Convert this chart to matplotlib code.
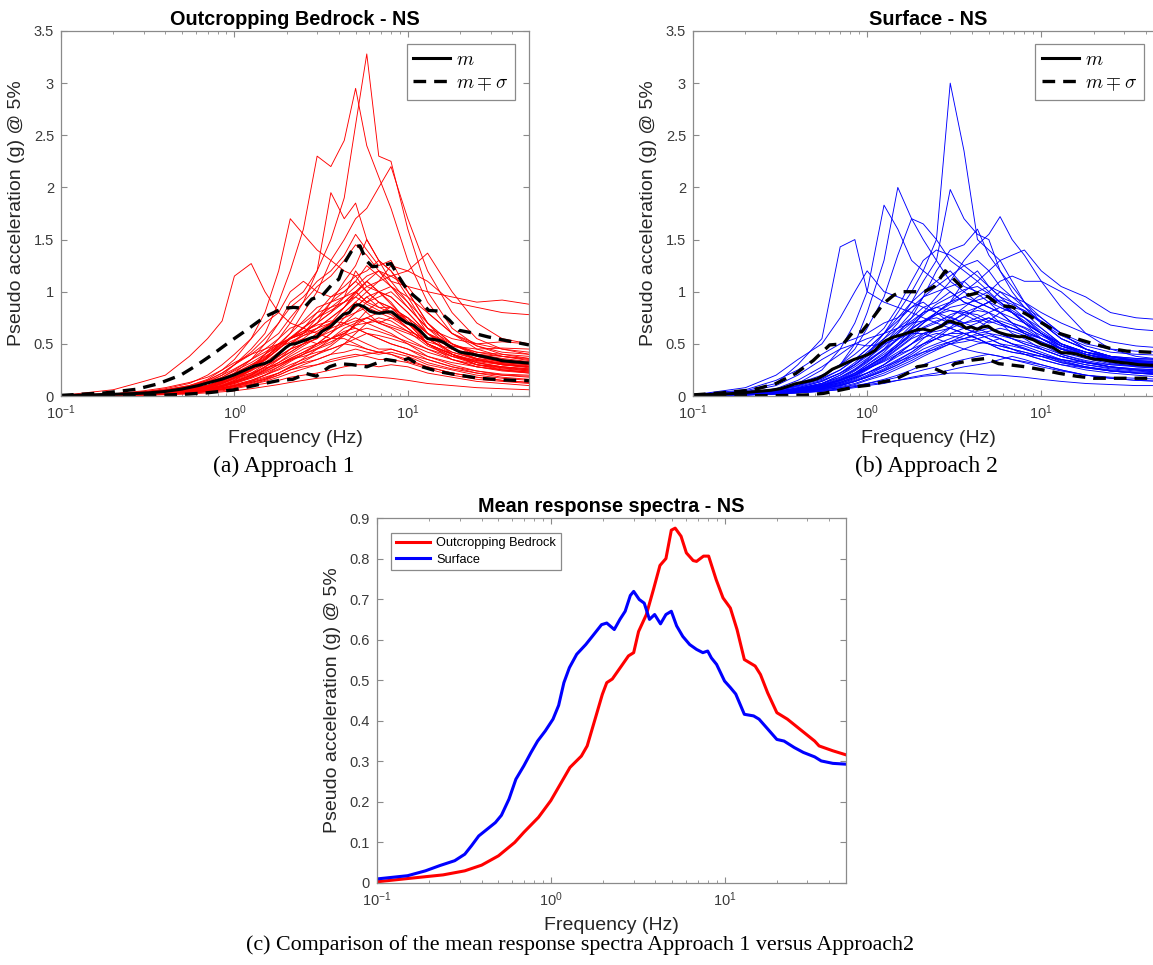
import matplotlib
matplotlib.use("Agg")
import matplotlib.pyplot as plt
from matplotlib.ticker import FuncFormatter, LogLocator, MultipleLocator

# ---------------- data ----------------
# common frequency grid of the individual record spectra (Hz)
record_freq = [0.1, 0.2, 0.3, 0.4, 0.55, 0.7, 0.85, 1.0, 1.25, 1.5, 1.8, 2.1, 2.5,
               3.0, 3.6, 4.3, 5.0, 5.8, 6.8, 8.0, 10, 13, 18, 25, 35, 50]

# (a) Outcropping bedrock individual spectra (g)
bedrock_spectra = [
    [0.005,0.06,0.14,0.2,0.38,0.55,0.72,1.15,1.27,1.0,0.8,0.7,0.65,0.6,0.55,0.55,0.5,0.45,0.42,0.4,0.33,0.28,0.22,0.18,0.15,0.13],
    [0.003,0.02,0.04,0.06,0.1,0.16,0.25,0.35,0.55,0.8,1.2,1.7,1.55,1.4,1.3,1.2,1.15,1.0,0.9,0.8,0.65,0.5,0.4,0.32,0.27,0.24],
    [0.003,0.02,0.03,0.05,0.08,0.13,0.2,0.3,0.45,0.6,0.9,1.2,1.6,2.3,2.2,2.45,2.95,2.4,2.1,1.8,1.3,0.9,0.6,0.45,0.38,0.34],
    [0.002,0.01,0.02,0.04,0.06,0.1,0.15,0.22,0.35,0.5,0.7,0.9,1.0,1.2,1.5,1.9,2.6,3.28,2.3,2.25,1.6,1.0,0.65,0.48,0.4,0.36],
    [0.002,0.01,0.02,0.03,0.05,0.08,0.12,0.17,0.25,0.35,0.5,0.6,0.8,1.0,1.3,1.5,1.7,1.8,2.0,2.2,1.7,1.2,0.8,0.55,0.45,0.4],
    [0.002,0.01,0.02,0.03,0.05,0.07,0.1,0.15,0.25,0.4,0.55,0.7,0.9,1.2,1.95,1.7,1.85,1.5,1.3,1.2,1.0,0.7,0.45,0.35,0.3,0.27],
    [0.002,0.01,0.02,0.03,0.05,0.08,0.12,0.18,0.25,0.35,0.45,0.55,0.6,0.7,0.8,0.9,1.0,1.1,1.2,1.1,1.05,1.0,0.95,0.9,0.92,0.88],
    [0.002,0.01,0.02,0.03,0.04,0.06,0.09,0.13,0.2,0.28,0.38,0.45,0.55,0.65,0.75,0.85,0.95,1.05,1.1,1.15,1.2,1.1,0.9,0.85,0.8,0.78],
    [0.002,0.01,0.02,0.03,0.05,0.07,0.1,0.14,0.2,0.28,0.35,0.42,0.5,0.6,0.7,0.8,0.9,1.0,1.1,1.25,1.2,1.37,1.0,0.7,0.55,0.5],
    [0.002,0.015,0.03,0.05,0.09,0.15,0.22,0.3,0.42,0.55,0.7,0.85,0.95,1.1,1.2,1.35,1.55,1.4,1.25,1.3,1.0,0.7,0.5,0.4,0.35,0.32],
    [0.001,0.01,0.02,0.03,0.05,0.08,0.12,0.16,0.22,0.3,0.4,0.5,0.6,0.75,0.9,1.1,1.25,1.5,1.3,1.2,0.95,0.65,0.45,0.35,0.3,0.28],
    [0.003,0.02,0.04,0.07,0.12,0.2,0.3,0.4,0.55,0.7,0.8,1.0,1.1,1.0,0.95,1.0,1.1,1.0,0.9,0.85,0.7,0.5,0.4,0.32,0.28,0.25],
    [0.002,0.012,0.025,0.04,0.07,0.1,0.14,0.2,0.28,0.4,0.5,0.55,0.6,0.7,0.8,0.95,1.2,1.05,1.0,0.95,0.8,0.6,0.45,0.38,0.33,0.3],
    [0.001,0.008,0.015,0.025,0.04,0.06,0.09,0.12,0.18,0.25,0.35,0.45,0.5,0.55,0.7,0.85,1.0,0.9,0.95,1.0,0.85,0.65,0.5,0.4,0.36,0.33],
    [0.002,0.015,0.03,0.05,0.08,0.12,0.17,0.22,0.3,0.35,0.45,0.55,0.6,0.65,0.7,0.75,0.8,0.85,0.8,0.75,0.65,0.5,0.4,0.33,0.3,0.28],
    [0.001,0.005,0.01,0.02,0.03,0.05,0.08,0.1,0.15,0.2,0.28,0.35,0.4,0.45,0.55,0.65,0.7,0.75,0.7,0.65,0.55,0.45,0.35,0.28,0.24,0.22],
    [0.003,0.02,0.05,0.08,0.13,0.18,0.25,0.32,0.4,0.45,0.5,0.5,0.55,0.5,0.55,0.6,0.55,0.5,0.45,0.45,0.4,0.35,0.28,0.24,0.21,0.2],
    [0.001,0.006,0.012,0.02,0.03,0.045,0.06,0.08,0.11,0.15,0.2,0.25,0.3,0.35,0.4,0.5,0.6,0.7,0.65,0.6,0.5,0.38,0.3,0.24,0.2,0.18],
    [0.002,0.01,0.02,0.035,0.06,0.09,0.13,0.18,0.25,0.3,0.38,0.45,0.5,0.6,0.65,0.8,0.9,0.8,0.7,0.75,0.7,0.55,0.4,0.3,0.26,0.24],
    [0.001,0.005,0.01,0.015,0.025,0.04,0.05,0.07,0.1,0.12,0.15,0.18,0.2,0.22,0.25,0.28,0.3,0.3,0.28,0.3,0.28,0.22,0.18,0.14,0.12,0.1],
    [0.001,0.004,0.008,0.012,0.02,0.03,0.04,0.05,0.07,0.09,0.11,0.13,0.15,0.17,0.18,0.2,0.2,0.19,0.18,0.17,0.15,0.12,0.1,0.08,0.07,0.06],
    [0.002,0.01,0.02,0.03,0.05,0.07,0.1,0.14,0.2,0.26,0.32,0.38,0.45,0.5,0.6,0.7,0.8,0.9,1.0,0.95,0.8,0.6,0.4,0.3,0.25,0.22],
    [0.002,0.015,0.03,0.05,0.08,0.12,0.18,0.25,0.35,0.45,0.55,0.65,0.7,0.8,0.95,1.05,1.15,1.2,1.3,1.1,0.9,0.7,0.5,0.38,0.32,0.3],
    [0.001,0.008,0.015,0.025,0.04,0.06,0.08,0.11,0.15,0.2,0.25,0.3,0.35,0.4,0.45,0.5,0.55,0.6,0.55,0.5,0.45,0.35,0.28,0.22,0.18,0.16],
    [0.003,0.02,0.04,0.06,0.1,0.15,0.22,0.3,0.4,0.5,0.6,0.75,0.9,1.05,1.15,1.3,1.45,1.35,1.2,1.05,0.9,0.6,0.45,0.36,0.31,0.28],
    [0.002,0.012,0.02,0.035,0.06,0.09,0.13,0.17,0.22,0.27,0.3,0.35,0.38,0.42,0.45,0.5,0.48,0.45,0.42,0.4,0.35,0.28,0.22,0.18,0.15,0.13],
    [0.001,0.006,0.012,0.02,0.035,0.05,0.07,0.1,0.14,0.18,0.22,0.28,0.32,0.35,0.4,0.42,0.45,0.42,0.4,0.42,0.38,0.3,0.25,0.2,0.17,0.15],
    [0.002,0.012,0.025,0.04,0.07,0.1,0.15,0.2,0.28,0.35,0.45,0.55,0.65,0.75,0.85,0.9,1.0,1.1,1.0,0.9,0.7,0.5,0.38,0.3,0.27,0.25],
    [0.001,0.008,0.015,0.025,0.04,0.06,0.08,0.1,0.13,0.16,0.2,0.25,0.28,0.3,0.35,0.38,0.4,0.38,0.35,0.35,0.32,0.26,0.2,0.16,0.14,0.12],
    [0.003,0.02,0.035,0.055,0.09,0.14,0.2,0.26,0.35,0.42,0.5,0.55,0.65,0.8,0.85,0.95,1.0,0.9,0.85,0.85,0.75,0.6,0.5,0.42,0.38,0.35],
    [0.002,0.012,0.022,0.035,0.06,0.09,0.13,0.18,0.26,0.34,0.45,0.55,0.62,0.7,0.9,1.0,1.1,1.25,1.15,1.05,0.85,0.65,0.55,0.5,0.52,0.5],
    [0.001,0.007,0.014,0.022,0.035,0.05,0.07,0.1,0.14,0.2,0.26,0.33,0.4,0.5,0.6,0.75,0.85,0.95,0.85,0.8,0.75,0.6,0.48,0.42,0.4,0.38],
    [0.002,0.01,0.02,0.03,0.05,0.08,0.11,0.15,0.21,0.28,0.36,0.42,0.5,0.55,0.65,0.7,0.75,0.7,0.72,0.68,0.62,0.55,0.48,0.45,0.46,0.45],
    [0.001,0.006,0.012,0.02,0.03,0.045,0.065,0.09,0.12,0.16,0.22,0.28,0.36,0.45,0.5,0.6,0.68,0.75,0.8,0.85,0.75,0.5,0.35,0.28,0.25,0.23],
    [0.002,0.015,0.03,0.045,0.07,0.1,0.15,0.21,0.3,0.38,0.46,0.52,0.58,0.62,0.7,0.78,0.85,0.95,1.0,1.05,0.95,0.8,0.6,0.48,0.42,0.4],
    [0.001,0.009,0.018,0.03,0.05,0.07,0.1,0.13,0.18,0.24,0.3,0.36,0.42,0.5,0.55,0.62,0.65,0.6,0.58,0.55,0.5,0.42,0.35,0.3,0.28,0.26],
    [0.002,0.01,0.02,0.035,0.055,0.08,0.12,0.17,0.24,0.32,0.42,0.5,0.58,0.65,0.75,0.85,0.98,1.1,1.0,0.88,0.72,0.55,0.42,0.35,0.3,0.28],
    [0.001,0.008,0.016,0.026,0.045,0.065,0.09,0.12,0.17,0.22,0.28,0.34,0.4,0.46,0.52,0.58,0.62,0.65,0.62,0.58,0.52,0.45,0.38,0.34,0.32,0.3],
    [0.002,0.012,0.024,0.04,0.065,0.1,0.14,0.19,0.27,0.36,0.48,0.6,0.72,0.85,0.9,0.95,1.05,1.15,1.2,1.15,1.05,0.8,0.6,0.5,0.45,0.42],
    [0.001,0.005,0.01,0.018,0.03,0.045,0.06,0.08,0.11,0.14,0.18,0.22,0.26,0.3,0.33,0.36,0.38,0.4,0.42,0.45,0.4,0.32,0.26,0.22,0.2,0.19],
    [0.002,0.012,0.025,0.04,0.065,0.1,0.14,0.2,0.28,0.37,0.47,0.56,0.66,0.75,0.82,0.9,0.95,0.88,0.82,0.78,0.65,0.5,0.4,0.34,0.31,0.29],
    [0.001,0.008,0.016,0.028,0.045,0.065,0.09,0.13,0.18,0.23,0.3,0.36,0.42,0.48,0.55,0.6,0.68,0.7,0.75,0.72,0.62,0.48,0.38,0.32,0.28,0.26],
    [0.003,0.018,0.035,0.055,0.09,0.13,0.18,0.24,0.32,0.4,0.48,0.56,0.62,0.68,0.72,0.7,0.65,0.6,0.55,0.5,0.45,0.38,0.32,0.28,0.25,0.23],
    [0.001,0.006,0.012,0.02,0.032,0.048,0.068,0.09,0.13,0.17,0.22,0.27,0.33,0.4,0.48,0.58,0.7,0.82,0.9,0.85,0.7,0.55,0.42,0.36,0.33,0.31],
    [0.002,0.01,0.02,0.032,0.052,0.075,0.1,0.14,0.19,0.25,0.32,0.4,0.48,0.56,0.62,0.68,0.72,0.75,0.7,0.66,0.6,0.52,0.45,0.4,0.38,0.36],
]

# (b) Surface individual spectra (g)
surface_spectra = [
    [0.01,0.05,0.12,0.3,0.55,1.43,1.5,1.0,0.9,0.85,0.8,0.75,0.7,0.65,0.6,0.55,0.5,0.45,0.42,0.4,0.35,0.3,0.27,0.24,0.22,0.2],
    [0.005,0.03,0.06,0.12,0.25,0.45,0.7,1.0,1.83,1.6,1.3,1.2,1.1,1.0,0.9,0.85,0.8,0.7,0.6,0.55,0.45,0.38,0.32,0.28,0.25,0.23],
    [0.004,0.02,0.05,0.1,0.18,0.3,0.5,0.8,1.3,2.0,1.7,1.5,1.3,1.1,1.0,0.9,0.85,0.8,0.7,0.6,0.5,0.4,0.33,0.28,0.25,0.22],
    [0.003,0.02,0.04,0.08,0.14,0.22,0.3,0.4,0.6,0.8,1.0,1.2,1.5,3.0,2.35,1.5,1.4,1.3,1.1,0.9,0.7,0.55,0.45,0.38,0.33,0.3],
    [0.003,0.02,0.04,0.07,0.12,0.2,0.3,0.4,0.55,0.7,0.9,1.1,1.3,1.98,1.7,1.55,1.5,1.2,1.0,0.85,0.7,0.55,0.45,0.38,0.33,0.3],
    [0.002,0.015,0.03,0.05,0.09,0.15,0.22,0.3,0.4,0.5,0.65,0.8,0.95,1.1,1.3,1.45,1.55,1.72,1.5,1.35,1.1,0.85,0.6,0.45,0.38,0.35],
    [0.003,0.02,0.04,0.06,0.1,0.15,0.2,0.28,0.38,0.48,0.6,0.7,0.8,0.9,1.0,1.1,1.2,1.3,1.35,1.4,1.2,1.05,0.95,0.8,0.75,0.73],
    [0.002,0.015,0.03,0.05,0.08,0.12,0.17,0.22,0.3,0.38,0.45,0.55,0.65,0.75,0.85,0.95,1.0,1.1,1.15,1.1,1.1,1.0,0.8,0.68,0.64,0.62],
    [0.004,0.025,0.05,0.1,0.18,0.3,0.45,0.65,0.95,1.35,1.7,1.65,1.5,1.3,1.2,1.1,1.0,0.9,0.8,0.7,0.55,0.45,0.38,0.32,0.28,0.26],
    [0.002,0.015,0.03,0.06,0.1,0.16,0.24,0.32,0.45,0.6,0.75,0.95,1.2,1.4,1.45,1.6,1.35,1.2,1.05,0.9,0.75,0.6,0.45,0.36,0.31,0.28],
    [0.01,0.08,0.2,0.35,0.5,0.75,1.0,1.2,1.0,0.95,0.9,0.85,0.8,0.7,0.65,0.6,0.55,0.5,0.45,0.4,0.35,0.3,0.25,0.22,0.2,0.18],
    [0.01,0.06,0.15,0.25,0.4,0.5,0.55,0.6,0.7,0.75,0.85,0.9,0.8,0.75,0.7,0.65,0.6,0.55,0.5,0.45,0.4,0.33,0.28,0.24,0.22,0.2],
    [0.005,0.03,0.06,0.1,0.16,0.25,0.35,0.45,0.6,0.75,0.9,1.0,1.1,1.2,1.05,1.0,0.95,0.9,0.8,0.7,0.6,0.45,0.38,0.33,0.3,0.28],
    [0.003,0.02,0.04,0.07,0.11,0.16,0.22,0.28,0.38,0.5,0.6,0.7,0.8,0.9,0.95,1.0,1.05,0.95,0.9,0.85,0.75,0.6,0.45,0.38,0.34,0.32],
    [0.002,0.01,0.02,0.04,0.07,0.1,0.14,0.18,0.25,0.32,0.4,0.48,0.55,0.65,0.7,0.75,0.8,0.85,0.8,0.75,0.65,0.5,0.4,0.34,0.3,0.28],
    [0.003,0.02,0.035,0.06,0.09,0.13,0.18,0.22,0.28,0.33,0.38,0.42,0.45,0.5,0.52,0.55,0.58,0.55,0.5,0.48,0.42,0.35,0.3,0.26,0.24,0.22],
    [0.002,0.012,0.025,0.04,0.06,0.08,0.1,0.12,0.15,0.18,0.22,0.25,0.28,0.32,0.35,0.38,0.4,0.38,0.35,0.33,0.3,0.25,0.2,0.17,0.15,0.14],
    [0.002,0.01,0.02,0.03,0.05,0.07,0.09,0.11,0.13,0.15,0.17,0.19,0.2,0.22,0.22,0.21,0.2,0.2,0.19,0.18,0.16,0.14,0.12,0.11,0.1,0.1],
    [0.004,0.03,0.07,0.15,0.28,0.4,0.5,0.55,0.6,0.65,0.7,0.72,0.75,0.7,0.65,0.6,0.55,0.5,0.48,0.45,0.4,0.35,0.3,0.27,0.25,0.24],
    [0.003,0.02,0.04,0.08,0.14,0.22,0.32,0.42,0.55,0.65,0.75,0.85,0.9,1.0,0.9,0.85,0.9,0.8,0.7,0.65,0.55,0.45,0.4,0.35,0.32,0.3],
    [0.002,0.015,0.03,0.05,0.08,0.12,0.17,0.22,0.3,0.4,0.5,0.6,0.65,0.7,0.8,0.85,0.9,1.0,0.95,0.9,0.8,0.7,0.6,0.52,0.48,0.46],
    [0.003,0.02,0.04,0.06,0.09,0.13,0.18,0.25,0.35,0.45,0.55,0.6,0.62,0.65,0.6,0.55,0.5,0.48,0.45,0.42,0.38,0.32,0.28,0.25,0.23,0.22],
    [0.002,0.015,0.03,0.05,0.08,0.11,0.15,0.2,0.28,0.35,0.42,0.5,0.55,0.6,0.65,0.7,0.75,0.7,0.65,0.6,0.55,0.48,0.42,0.38,0.36,0.35],
    [0.004,0.03,0.06,0.12,0.2,0.3,0.4,0.5,0.65,0.85,1.1,1.3,1.4,1.35,1.25,1.15,1.05,0.95,0.85,0.75,0.6,0.48,0.4,0.34,0.3,0.28],
    [0.003,0.02,0.035,0.06,0.1,0.15,0.2,0.26,0.33,0.4,0.45,0.5,0.55,0.6,0.6,0.55,0.5,0.45,0.42,0.4,0.38,0.35,0.32,0.3,0.29,0.28],
    [0.002,0.01,0.02,0.03,0.045,0.06,0.08,0.1,0.12,0.15,0.18,0.2,0.22,0.25,0.28,0.3,0.32,0.35,0.38,0.35,0.3,0.25,0.2,0.17,0.15,0.14],
    [0.005,0.04,0.1,0.2,0.35,0.45,0.5,0.48,0.5,0.55,0.6,0.6,0.55,0.5,0.45,0.42,0.4,0.38,0.35,0.32,0.28,0.24,0.2,0.18,0.17,0.16],
    [0.003,0.02,0.04,0.07,0.12,0.2,0.28,0.36,0.48,0.6,0.7,0.8,0.85,0.9,1.1,1.2,1.05,1.0,0.9,0.8,0.65,0.5,0.42,0.36,0.33,0.31],
    [0.002,0.012,0.025,0.04,0.07,0.1,0.14,0.18,0.24,0.3,0.38,0.45,0.5,0.55,0.6,0.62,0.65,0.6,0.55,0.5,0.45,0.38,0.32,0.28,0.26,0.25],
    [0.003,0.02,0.04,0.07,0.11,0.17,0.25,0.35,0.5,0.65,0.8,0.95,1.05,1.15,1.25,1.3,1.2,1.05,0.95,0.85,0.7,0.55,0.45,0.38,0.34,0.32],
    [0.003,0.02,0.04,0.07,0.12,0.18,0.26,0.34,0.45,0.55,0.65,0.72,0.8,0.88,0.95,0.9,0.85,0.8,0.75,0.7,0.6,0.5,0.42,0.38,0.36,0.35],
    [0.002,0.015,0.03,0.05,0.085,0.13,0.19,0.26,0.36,0.46,0.56,0.65,0.7,0.78,0.82,0.75,0.7,0.72,0.68,0.62,0.55,0.45,0.38,0.33,0.3,0.29],
    [0.004,0.025,0.05,0.09,0.15,0.22,0.3,0.38,0.5,0.62,0.72,0.8,0.85,0.82,0.78,0.72,0.66,0.6,0.55,0.5,0.45,0.38,0.32,0.28,0.26,0.25],
    [0.002,0.012,0.025,0.04,0.065,0.1,0.14,0.19,0.26,0.34,0.42,0.5,0.58,0.66,0.75,0.85,0.9,0.92,0.88,0.82,0.7,0.58,0.48,0.42,0.4,0.39],
    [0.003,0.02,0.04,0.065,0.1,0.15,0.22,0.3,0.42,0.55,0.68,0.78,0.88,0.95,1.02,1.05,0.98,0.9,0.82,0.75,0.62,0.5,0.42,0.36,0.33,0.32],
    [0.002,0.014,0.028,0.045,0.07,0.1,0.14,0.18,0.24,0.3,0.36,0.42,0.48,0.52,0.55,0.6,0.62,0.65,0.62,0.58,0.52,0.45,0.38,0.34,0.32,0.31],
    [0.003,0.018,0.036,0.06,0.1,0.15,0.21,0.28,0.38,0.48,0.58,0.66,0.72,0.76,0.7,0.72,0.75,0.7,0.65,0.6,0.52,0.42,0.36,0.31,0.29,0.28],
    [0.002,0.01,0.02,0.035,0.055,0.08,0.11,0.15,0.2,0.26,0.32,0.38,0.44,0.5,0.55,0.58,0.6,0.58,0.55,0.52,0.47,0.4,0.34,0.3,0.28,0.27],
    [0.004,0.03,0.06,0.1,0.17,0.25,0.35,0.45,0.6,0.72,0.85,0.95,1.0,1.05,1.1,0.98,0.9,0.85,0.8,0.72,0.6,0.48,0.4,0.35,0.32,0.3],
    [0.002,0.012,0.024,0.04,0.062,0.09,0.12,0.16,0.22,0.28,0.34,0.4,0.46,0.52,0.58,0.65,0.72,0.8,0.85,0.82,0.72,0.6,0.5,0.45,0.43,0.42],
    [0.003,0.02,0.04,0.065,0.1,0.15,0.2,0.26,0.34,0.42,0.5,0.56,0.6,0.58,0.55,0.52,0.5,0.48,0.45,0.42,0.38,0.32,0.27,0.24,0.22,0.21],
    [0.002,0.016,0.032,0.055,0.09,0.14,0.2,0.27,0.37,0.48,0.6,0.7,0.78,0.85,0.88,0.92,0.95,0.88,0.8,0.7,0.6,0.5,0.42,0.37,0.35,0.34],
    [0.002,0.01,0.02,0.03,0.045,0.065,0.09,0.12,0.16,0.2,0.25,0.3,0.35,0.4,0.45,0.5,0.52,0.55,0.5,0.46,0.4,0.34,0.28,0.24,0.22,0.21],
    [0.003,0.022,0.045,0.075,0.12,0.18,0.25,0.33,0.44,0.54,0.64,0.72,0.78,0.82,0.8,0.78,0.72,0.68,0.65,0.62,0.55,0.46,0.4,0.36,0.34,0.33],
    [0.002,0.014,0.028,0.046,0.075,0.11,0.16,0.22,0.3,0.4,0.5,0.58,0.66,0.72,0.78,0.82,0.8,0.75,0.7,0.66,0.58,0.48,0.4,0.35,0.32,0.3],
]

# mean spectra (also shown in panel c)
mean_rock_freq = [0.1,0.15,0.24,0.32,0.40,0.50,0.62,0.70,0.85,1.0,1.15,1.29,1.5,1.62,1.81,1.98,2.1,2.26,2.55,2.8,
                  3.0,3.2,3.55,3.9,4.25,4.6,4.94,5.2,5.62,6.03,6.6,6.9,7.57,8.1,8.95,9.8,10.8,11.8,13.0,15.0,
                  16.1,17.7,20,23,27,33,35,42,50]
mean_rock = [0.003,0.011,0.02,0.03,0.044,0.067,0.10,0.125,0.162,0.203,0.248,0.285,0.313,0.338,0.408,0.465,0.494,0.503,0.535,0.56,
             0.568,0.62,0.662,0.724,0.783,0.80,0.87,0.875,0.855,0.814,0.795,0.793,0.806,0.806,0.748,0.703,0.678,0.625,0.551,0.535,
             0.514,0.469,0.42,0.404,0.38,0.35,0.338,0.326,0.316]

mean_surf_freq = [0.1,0.15,0.19,0.23,0.28,0.32,0.35,0.385,0.42,0.48,0.52,0.575,0.63,0.70,0.77,0.84,0.93,1.03,1.11,1.19,
                  1.28,1.41,1.59,1.74,1.96,2.10,2.32,2.5,2.68,2.87,3.0,3.23,3.45,3.7,3.96,4.28,4.6,4.94,5.3,5.75,
                  6.3,6.9,7.5,8.0,8.4,9.0,10,10.8,11.6,13,14.7,15.8,17.7,20,22,25.2,28.4,33,36,42,50]
mean_surf = [0.01,0.018,0.03,0.043,0.055,0.071,0.092,0.116,0.129,0.149,0.167,0.207,0.256,0.289,0.322,0.35,0.375,0.404,0.438,0.494,
             0.531,0.564,0.588,0.609,0.637,0.641,0.625,0.65,0.67,0.709,0.719,0.699,0.69,0.65,0.662,0.639,0.662,0.67,0.634,0.608,
             0.588,0.576,0.568,0.572,0.555,0.539,0.498,0.482,0.466,0.416,0.412,0.404,0.38,0.354,0.35,0.334,0.322,0.311,0.301,0.295,0.293]

# mean +/- sigma envelopes
rock_up_freq = [0.1,0.18,0.27,0.36,0.49,0.6,0.75,0.94,1.17,1.5,1.9,2.2,2.5,2.8,3.2,3.7,4.0,4.4,4.9,5.3,
                5.75,6.25,7.1,8.0,8.9,10,11.6,13.2,15,17.3,19.7,23.6,29,36,50]
rock_up = [0.006,0.03,0.064,0.115,0.2,0.29,0.4,0.52,0.63,0.76,0.84,0.85,0.84,0.93,0.96,1.08,1.12,1.3,1.43,1.44,
           1.3,1.24,1.25,1.27,1.14,1.01,0.92,0.82,0.815,0.73,0.63,0.605,0.567,0.535,0.49]
rock_lo_freq = [0.1,0.2,0.37,0.5,0.69,0.98,1.34,1.82,2.17,2.6,2.97,3.53,4.0,4.8,5.8,6.25,7.5,8.9,10.1,12.1,
                15.1,19.7,26,36,50]
rock_lo = [0.0,0.003,0.008,0.015,0.03,0.057,0.105,0.15,0.16,0.215,0.19,0.28,0.31,0.3,0.28,0.3,0.35,0.33,0.36,0.28,
           0.233,0.2,0.17,0.153,0.147]

surf_up_freq = [0.1,0.146,0.21,0.24,0.30,0.39,0.49,0.61,0.73,0.83,0.93,1.09,1.24,1.42,1.56,1.86,2.13,2.43,2.81,3.33,
                3.8,4.35,4.98,5.7,6.8,8.1,10.2,12.7,15.9,20,24.9,31,42,50]
surf_up = [0.01,0.03,0.055,0.075,0.12,0.217,0.34,0.49,0.50,0.615,0.615,0.76,0.886,0.966,1.0,1.0,1.0,1.05,1.2,1.08,
           0.966,0.99,0.95,0.87,0.854,0.79,0.695,0.6,0.55,0.5,0.456,0.43,0.42,0.42]
surf_lo_freq = [0.1,0.3,0.45,0.56,0.7,0.87,1.04,1.24,1.42,1.7,1.94,2.22,2.54,2.78,3.18,4.0,4.8,5.7,6.8,8.1,
                10.2,12.7,15.9,20,31,50]
surf_lo = [0.0,0.003,0.01,0.025,0.057,0.09,0.105,0.137,0.153,0.217,0.28,0.296,0.25,0.22,0.31,0.344,0.36,0.31,0.296,0.28,
           0.25,0.217,0.19,0.17,0.17,0.17]

titles = ["Outcropping Bedrock - NS", "Surface - NS", "Mean response spectra - NS"]
captions = ["(a) Approach 1", "(b) Approach 2",
            "(c) Comparison of the mean response spectra Approach 1 versus Approach2"]
ylabel = "Pseudo acceleration (g) @ 5%"
xlabel = "Frequency (Hz)"

# ---------------- figure ----------------
plt.rcParams["font.family"] = ["Liberation Sans", "DejaVu Sans"]
plt.rcParams["mathtext.fontset"] = "cm"

W, H = 1153, 965
fig = plt.figure(figsize=(W / 100, H / 100), dpi=100)

def px_axes(x0, y0, x1, y1):
    return fig.add_axes([x0 / W, 1 - y1 / H, (x1 - x0) / W, (y1 - y0) / H])

axA = px_axes(61, 31, 529, 396)
axB = px_axes(693, 31, 1163, 396)
axC = px_axes(377, 518, 846, 883)

SPINE = "#8a8a8a"
TXT = "#3a3a3a"

def style(ax, ymax, ystep, title):
    ax.set_xscale("log")
    ax.set_xlim(0.1, 50)
    ax.set_ylim(0, ymax)
    ax.yaxis.set_major_locator(MultipleLocator(ystep))
    ax.yaxis.set_major_formatter(FuncFormatter(lambda v, p: f"{v:g}"))
    ax.xaxis.set_major_locator(LogLocator(base=10, numticks=10))
    ax.xaxis.set_minor_locator(LogLocator(base=10, subs=range(2, 10), numticks=20))
    for s in ax.spines.values():
        s.set_color(SPINE)
        s.set_linewidth(0.9)
    ax.tick_params(which="both", direction="in", top=True, right=True,
                   color=SPINE, labelcolor=TXT, labelsize=10.5)
    ax.tick_params(which="major", length=4.5, width=0.8, pad=5)
    ax.tick_params(which="minor", length=2.5, width=0.6)
    ax.set_xlabel(xlabel, fontsize=14, color="#262626", labelpad=6)
    ax.set_ylabel(ylabel, fontsize=14, color="#262626", labelpad=6)
    ax.set_title(title, fontsize=14.3, fontweight="bold", pad=4)

DASH = (0, (3.8, 2.4))

# panel a
for rec in bedrock_spectra:
    axA.plot(record_freq, rec, color="#ff0000", lw=0.65)
axA.plot(mean_rock_freq, mean_rock, color="black", lw=2.2, label=r"$m$")
axA.plot(rock_up_freq, rock_up, color="black", lw=2.4, ls=DASH, label=r"$m \mp \sigma$")
axA.plot(rock_lo_freq, rock_lo, color="black", lw=2.4, ls=DASH)
style(axA, 3.5, 0.5, titles[0])

# panel b
for rec in surface_spectra:
    axB.plot(record_freq, rec, color="#0000ff", lw=0.65)
axB.plot(mean_surf_freq, mean_surf, color="black", lw=2.2, label=r"$m$")
axB.plot(surf_up_freq, surf_up, color="black", lw=2.4, ls=DASH, label=r"$m \mp \sigma$")
axB.plot(surf_lo_freq, surf_lo, color="black", lw=2.4, ls=DASH)
style(axB, 3.5, 0.5, titles[1])

for ax, anchor in ((axA, (0.970, 0.964)), (axB, (0.959, 0.964))):
    leg = ax.legend(loc="upper right", bbox_to_anchor=anchor, borderaxespad=0,
                    fontsize=14, fancybox=False, framealpha=1, edgecolor="#8a8a8a",
                    handlelength=1.9, handletextpad=0.3, labelspacing=0.3,
                    borderpad=0.35)
    leg.get_frame().set_linewidth(0.9)

# panel c
axC.plot(mean_rock_freq, mean_rock, color="#ff0000", lw=2.2, label="Outcropping Bedrock")
axC.plot(mean_surf_freq, mean_surf, color="#0000ff", lw=2.2, label="Surface")
style(axC, 0.9, 0.1, titles[2])
legC = axC.legend(loc="upper left", bbox_to_anchor=(0.030, 0.959), borderaxespad=0,
                  fontsize=9.2, fancybox=False, framealpha=1, edgecolor="#8a8a8a",
                  handlelength=2.7, handletextpad=0.5, labelspacing=0.35, borderpad=0.35)
legC.get_frame().set_linewidth(0.9)

# captions
serif = ["Liberation Serif", "DejaVu Serif"]
fig.text(284 / W, 1 - 466 / H, captions[0], fontsize=17, family=serif, ha="center", va="center")
fig.text(926 / W, 1 - 466 / H, captions[1], fontsize=17, family=serif, ha="center", va="center")
fig.text(580 / W, 1 - 945 / H, captions[2], fontsize=15.8, family=serif, ha="center", va="center")

fig.savefig("out.png", dpi=100)
